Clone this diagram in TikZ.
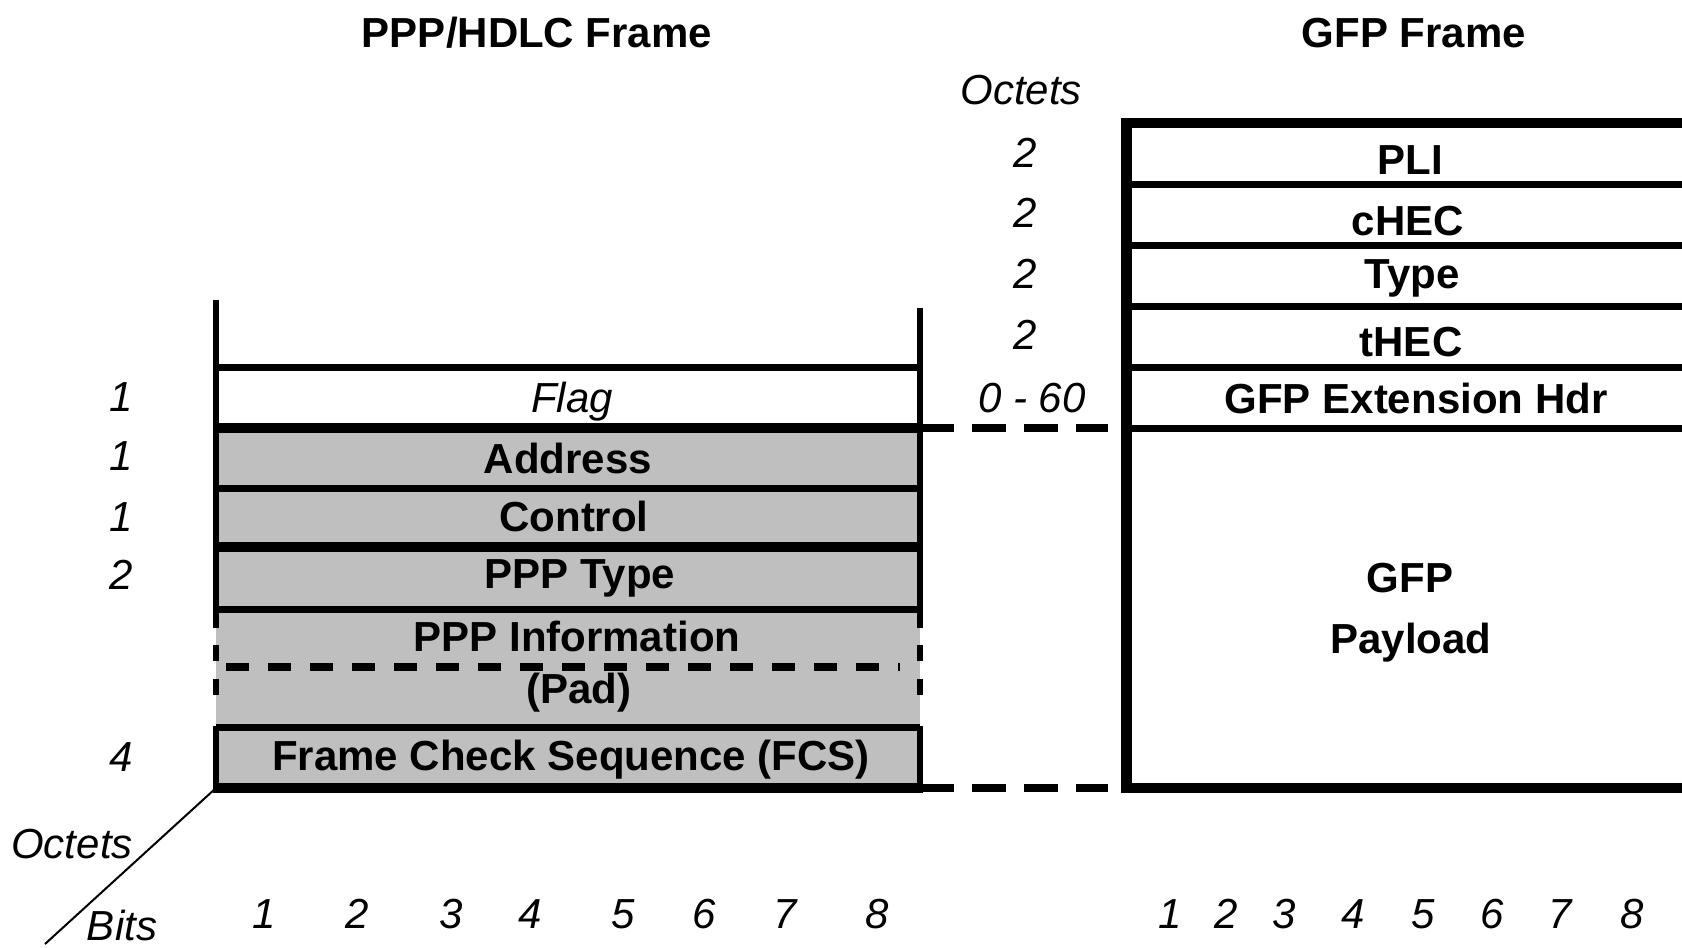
\documentclass[tikz,border=0pt]{standalone}
\usepackage{fontspec}
\setmainfont{Liberation Sans}
\usetikzlibrary{positioning}
\definecolor{fieldgray}{RGB}{191,191,191}
\tikzset{
  fieldlabel/.style={font=\fontsize{21}{24}\selectfont\bfseries, inner sep=0pt, anchor=base},
  octetnum/.style={font=\fontsize{21}{24}\selectfont\itshape, inner sep=0pt, anchor=base},
  framerule/.style={line width=3.5pt},
  heavyrule/.style={line width=5pt},
  frameside/.style={line width=3pt},
  padrule/.style={line width=4pt, dash pattern=on 11.5pt off 9.5pt},
  sidegap/.style={line width=3pt, dash pattern=on 8pt off 9pt},
  linkgap/.style={line width=4pt, dash pattern=on 17pt off 9pt},
}

\begin{document}
\begin{tikzpicture}[x=0.5pt,y=-0.5pt]
      \useasboundingbox (0,0) rectangle (1682,948);
      \coordinate (hTopL) at (216,300);
      \coordinate (hTopR) at (920,308);
      \coordinate (hFlagR) at (920,428);
      \coordinate (hBotL) at (216,788);
      \coordinate (hBotR) at (920,788);
      \coordinate (gLinkTop) at (1108,428);
      \coordinate (gLinkBot) at (1108,788);
      \coordinate (axisEnd) at (45,944);
      % PPP/HDLC frame
      \fill[fieldgray] (216,428) rectangle (hBotR);
      \draw[frameside] (hTopL) -- (216,628);
      \draw[frameside] (hTopR) -- (920,628);
      \draw[sidegap] (216,645) -- (216,712);
      \draw[sidegap] (920,645) -- (920,712);
      \draw[frameside] (216,726) -- (216,793);
      \draw[frameside] (920,726) -- (920,793);
      \draw[framerule] (216,367) -- (920,367);
      \draw[heavyrule] (216,428) -- (hFlagR);
      \draw[framerule] (216,488) -- (920,488);
      \draw[heavyrule] (216,547) -- (920,547);
      \draw[framerule] (216,609) -- (920,609);
      \draw[padrule] (226,667) -- (900,667);
      \draw[framerule] (216,727) -- (920,727);
      \draw[heavyrule] (hBotL) -- (hBotR);
      % GFP frame
      \draw[line width=5.5pt] (1126,118) -- (1126,793);
      \draw[heavyrule] (1126,123) -- (1682,123);
      \foreach \y in {184,245,306,367,428}
        \draw[framerule] (1126,\y) -- (1682,\y);
      \draw[heavyrule] (1126,788) -- (1682,788);
      % links between the frames
      \draw[linkgap] (hFlagR) -- (gLinkTop);
      \draw[linkgap] (hBotR) -- (gLinkBot);
      \draw[line width=1pt] (hBotL) -- (axisEnd);
      % titles
      \node[fieldlabel] (hdlcTitle) at (537,47) {PPP/HDLC Frame};
      \node[fieldlabel] (gfpTitle) at (1414,47) {GFP Frame};
      \node[octetnum] (gfpOctets) at (1021,104) {Octets};
      % PPP/HDLC fields
      \node[octetnum] (flagText) at (572,412) {Flag};
      \node[fieldlabel] (addrText) at (568,473) {Address};
      \node[fieldlabel] (ctrlText) at (574,531) {Control};
      \node[fieldlabel] (typeText) at (580,588) {PPP Type};
      \node[fieldlabel] (infoText) at (577,651) {PPP Information};
      \node[fieldlabel] (padText) at (579,703) {(Pad)};
      \node[fieldlabel] (fcsText) at (571,770) {Frame Check Sequence (FCS)};
      \node[octetnum] (flagLen) at (121,411) {1};
      \node[octetnum] (addrLen) at (121,470) {1};
      \node[octetnum] (ctrlLen) at (121,531) {1};
      \node[octetnum] (typeLen) at (121,589) {2};
      \node[octetnum] (fcsLen) at (121,771) {4};
      % GFP fields
      \node[fieldlabel] (pliText) at (1410,174) {PLI};
      \node[fieldlabel] (checText) at (1408,235) {cHEC};
      \node[fieldlabel] (gtypeText) at (1412,288) {Type};
      \node[fieldlabel] (thecText) at (1411,356) {tHEC};
      \node[fieldlabel] (extText) at (1416,413) {GFP Extension Hdr};
      \node[fieldlabel] (payText) at (1410,592) {GFP};
      \node[fieldlabel] (payText2) at (1411,653) {Payload};
      \node[octetnum] (pliLen) at (1025,167) {2};
      \node[octetnum] (checLen) at (1025,227) {2};
      \node[octetnum] (gtypeLen) at (1025,288) {2};
      \node[octetnum] (thecLen) at (1025,349) {2};
      \node[octetnum] (extLen) at (1032,412) {0 - 60};
      % axis labels and bit numbers
      \node[octetnum] (octetsAxis) at (72,858) {Octets};
      \node[octetnum] (bitsAxis) at (122,940) {Bits};
      \foreach \x [count=\b] in {264,357,451,530,623,704,785,877}
        \node[octetnum] (hbit\b) at (\x,928) {\b};
      \foreach \x [count=\b] in {1170,1226,1284,1353,1423,1492,1560,1632}
        \node[octetnum] (gbit\b) at (\x,928) {\b};
\end{tikzpicture}
\end{document}
